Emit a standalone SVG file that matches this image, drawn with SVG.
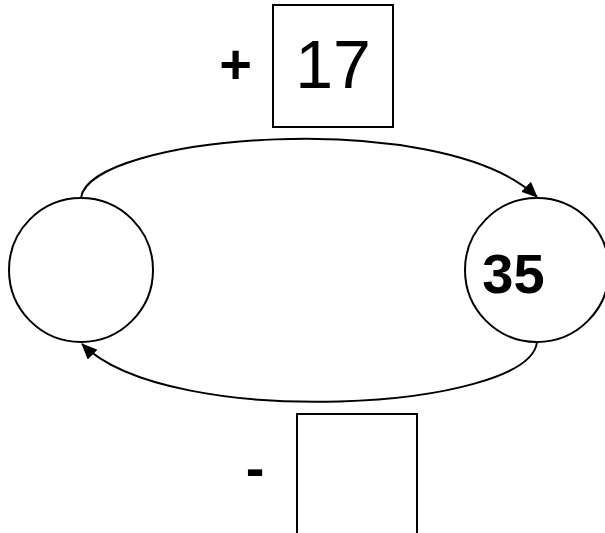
<svg xmlns="http://www.w3.org/2000/svg" width="605" height="533" viewBox="0 0 605 533">
<style>
.shape{fill:#fff;stroke:#000;stroke-width:2}
.conn{fill:none;stroke:#000;stroke-width:2}
.big{font-family:"Liberation Sans",Arial,sans-serif;font-size:68px;fill:#000}
.bold{font-family:"Liberation Sans",Arial,sans-serif;font-size:56px;font-weight:bold;fill:#000}
</style>
<defs>
<marker id="arrow" markerUnits="userSpaceOnUse" markerWidth="16" markerHeight="14" refX="15" refY="7" orient="auto">
<path d="M0,0 L16,7 L0,14 Z" fill="#000"/>
</marker>
</defs>
<rect width="605" height="533" fill="#fff"/>
<g id="connectors">
<path class="conn" d="M81,198 C88,135 440,105 537,197" marker-end="url(#arrow)"/>
<path class="conn" d="M537,342 C530,410 170,432 82,344" marker-end="url(#arrow)"/>
</g>
<g id="box-top">
<rect class="shape" x="273" y="5" width="120" height="122"/>
<text class="big" x="333" y="88" text-anchor="middle">17</text>
</g>
<g id="plus">
<text class="bold" x="235.5" y="83" text-anchor="middle">+</text>
</g>
<g id="circle-left">
<circle class="shape" cx="81" cy="270" r="72"/>
</g>
<g id="circle-right">
<circle class="shape" cx="537" cy="270" r="72"/>
<text class="bold" x="513.5" y="293" text-anchor="middle">35</text>
</g>
<g id="box-bottom">
<rect class="shape" x="297" y="414" width="120" height="130"/>
</g>
<g id="minus">
<text class="bold" x="255" y="487" text-anchor="middle">-</text>
</g>
</svg>
